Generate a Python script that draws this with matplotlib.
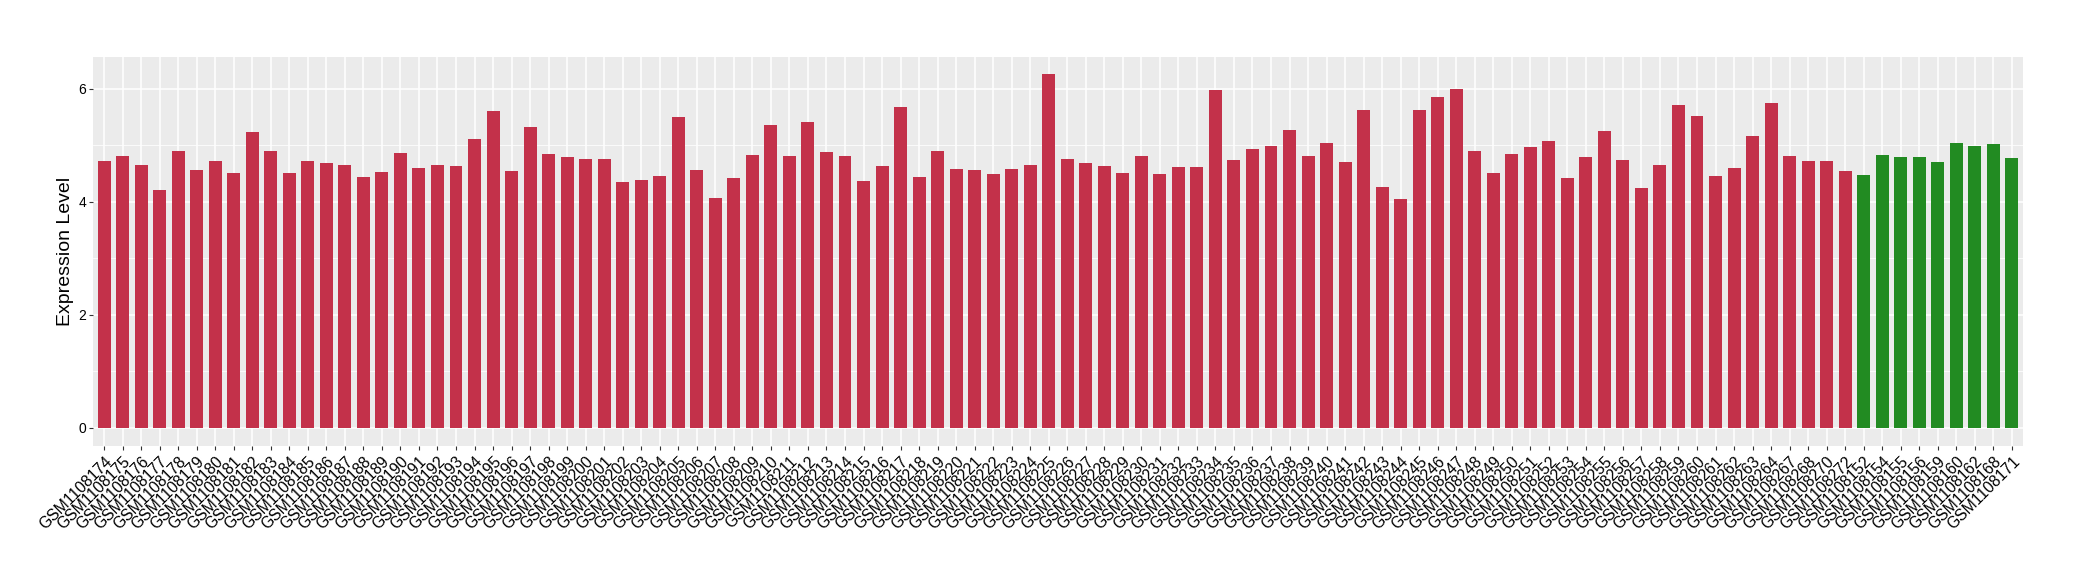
import numpy as np
import matplotlib
matplotlib.use('Agg')
import matplotlib.pyplot as plt
from matplotlib.ticker import MultipleLocator

plt.rcParams['font.family'] = ['Liberation Sans', 'DejaVu Sans']

# sample names (red group first, then green group)
red_samples = ['GSM%d' % n for n in range(1108174, 1108265)] + \
              ['GSM1108267', 'GSM1108268', 'GSM1108270', 'GSM1108272']
green_samples = ['GSM1108152', 'GSM1108154', 'GSM1108155', 'GSM1108156', 'GSM1108159',
                 'GSM1108160', 'GSM1108162', 'GSM1108168', 'GSM1108171']

red_values = [4.72, 4.81, 4.65, 4.21, 4.89, 4.56, 4.72, 4.51, 5.23, 4.89,
              4.51, 4.72, 4.68, 4.65, 4.44, 4.52, 4.86, 4.59, 4.65, 4.63,
              5.11, 5.60, 4.54, 5.32, 4.84, 4.79, 4.75, 4.75, 4.35, 4.38,
              4.45, 5.49, 4.56, 4.06, 4.42, 4.82, 5.35, 4.81, 5.41, 4.88,
              4.81, 4.36, 4.63, 5.67, 4.44, 4.89, 4.58, 4.56, 4.49, 4.58,
              4.65, 6.25, 4.75, 4.68, 4.63, 4.51, 4.81, 4.49, 4.61, 4.61,
              5.97, 4.74, 4.93, 4.98, 5.26, 4.81, 5.04, 4.70, 5.62, 4.26,
              4.05, 5.62, 5.85, 5.99, 4.89, 4.51, 4.84, 4.96, 5.07, 4.42,
              4.79, 5.25, 4.74, 4.24, 4.65, 5.71, 5.51, 4.45, 4.59, 5.16,
              5.74, 4.81, 4.72, 4.72, 4.54]
green_values = [4.47, 4.82, 4.79, 4.79, 4.70, 5.04, 4.98, 5.02, 4.77]

samples = red_samples + green_samples
values = red_values + green_values
colors = ['#C3314A'] * len(red_values) + ['#228B22'] * len(green_values)

fig = plt.figure(figsize=(20.8, 5.8), dpi=100)
ax = fig.add_axes([0.0447, 0.2316, 0.9279, 0.6706])

x = np.arange(len(samples))
ax.set_facecolor('#EBEBEB')
ax.bar(x, values, width=0.7, color=colors, zorder=3)

ax.set_xlim(-0.6, len(samples) - 1 + 0.6)
ymax = max(values)
ax.set_ylim(-0.05 * ymax, ymax * 1.05)

ax.yaxis.set_major_locator(MultipleLocator(2))
ax.yaxis.set_minor_locator(MultipleLocator(1))
ax.grid(which='major', color='white', linewidth=1.1, zorder=1)
ax.grid(which='minor', axis='y', color='white', linewidth=0.55, zorder=1)
ax.set_axisbelow(True)

ax.set_xticks(x)
ax.set_xticklabels(samples, rotation=45, ha='right', rotation_mode='anchor', fontsize=11.3)
ax.tick_params(axis='both', which='major', length=3, color='#333333', width=0.8, labelcolor='black')
ax.tick_params(axis='y', which='minor', length=0)
ax.tick_params(axis='y', labelsize=10, pad=2)
ax.tick_params(axis='x', pad=3)

for s in ax.spines.values():
    s.set_visible(False)

ax.set_ylabel('Expression Level', fontsize=14, labelpad=3)

fig.savefig('out.png', dpi=100)
